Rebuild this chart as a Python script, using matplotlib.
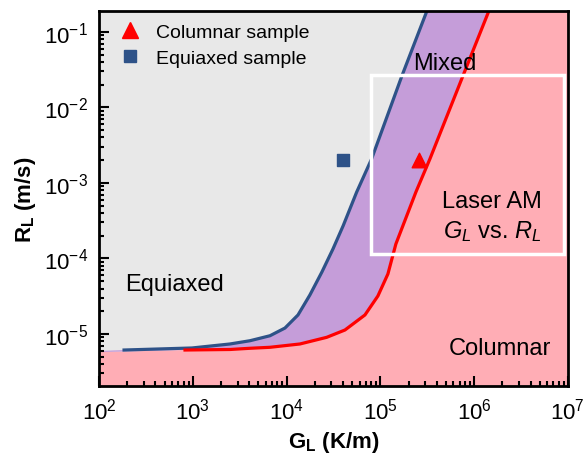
import matplotlib
matplotlib.use('Agg')
import matplotlib.pyplot as plt
from matplotlib.lines import Line2D

plt.rcParams['font.family'] = ['Liberation Sans', 'DejaVu Sans']
plt.rcParams['mathtext.fontset'] = 'custom'
plt.rcParams['mathtext.rm'] = 'Liberation Sans'
plt.rcParams['mathtext.it'] = 'Liberation Sans:italic'
plt.rcParams['mathtext.bf'] = 'Liberation Sans:bold'

# equiaxed / mixed boundary (blue), log10 values
logG_blue = [2.0, 2.267, 2.991, 3.397, 3.610, 3.823, 3.983, 4.122, 4.249, 4.377, 4.495,
             4.604, 4.747, 4.907, 5.230, 5.497, 5.56]
logR_blue = [-5.225, -5.212, -5.185, -5.132, -5.089, -5.023, -4.921, -4.748, -4.483, -4.179, -3.874,
             -3.566, -3.123, -2.682, -1.583, -0.722, -0.55]
blue_start = 2.267

# mixed / columnar boundary (red)
logG_red = [2.0, 2.917, 3.397, 3.610, 3.823, 4.143, 4.428, 4.623, 4.836, 4.974, 5.081,
            5.166, 5.380, 5.529, 5.881, 6.158, 6.22]
logR_red = [-5.24, -5.212, -5.205, -5.189, -5.176, -5.132, -5.044, -4.947, -4.748, -4.497, -4.205,
            -3.808, -3.119, -2.682, -1.583, -0.722, -0.55]
red_start = 2.917

# samples
G_columnar, R_columnar = 2.6e5, 2.0e-3
G_equiaxed, R_equiaxed = 4.0e4, 2.0e-3

# laser AM window
G_am = (8e4, 9e6)
R_am = (1.15e-4, 2.7e-2)

xlim = (1e2, 1e7)
ylim = (2.04e-6, 0.19)

G_blue = [10 ** v for v in logG_blue]
R_blue = [10 ** v for v in logR_blue]
G_red = [10 ** v for v in logG_red]
R_red = [10 ** v for v in logR_red]

fig = plt.figure(figsize=(5.86, 4.56), dpi=100)
ax = fig.add_axes([0.169, 0.151, 0.8, 0.823])
ax.set_xscale('log')
ax.set_yscale('log')
ax.set_xlim(*xlim)
ax.set_ylim(*ylim)
ax.set_facecolor('#e8e8e8')

# regions
ax.fill(G_red + [xlim[1], xlim[1], xlim[0]],
        R_red + [R_red[-1], ylim[0], ylim[0]],
        color='#ffadb5', lw=0, zorder=1)
ax.fill(G_blue + G_red[::-1], R_blue + R_red[::-1],
        color='#c59dd9', lw=0, zorder=1)

gb = [g for g, l in zip(G_blue, logG_blue) if l >= blue_start]
rb = [r for r, l in zip(R_blue, logG_blue) if l >= blue_start]
gr = [g for g, l in zip(G_red, logG_red) if l >= red_start]
rr = [r for r, l in zip(R_red, logG_red) if l >= red_start]
ax.plot(gb, rb, color='#2e5288', lw=2.3, zorder=3, solid_joinstyle='round')
ax.plot(gr, rr, color='#ff0000', lw=2.3, zorder=3, solid_joinstyle='round')

ax.add_patch(plt.Rectangle((G_am[0], R_am[0]), G_am[1] - G_am[0], R_am[1] - R_am[0],
                           fill=False, ec='white', lw=2.5, zorder=4))

ax.scatter([G_columnar], [R_columnar], marker='^', s=110, color='#ff0000', zorder=5)
ax.scatter([G_equiaxed], [R_equiaxed], marker='s', s=80, color='#2e5288', zorder=5)

handles = [Line2D([], [], ls='', marker='^', ms=11, color='#ff0000'),
           Line2D([], [], ls='', marker='s', ms=9, color='#2e5288')]
ax.legend(handles, ['Columnar sample', 'Equiaxed sample'], loc='upper left',
          frameon=False, fontsize=14, handletextpad=0.35, borderaxespad=0.2,
          labelspacing=0.45, bbox_to_anchor=(0.0, 0.998))

txt = dict(transform=ax.transAxes, fontsize=17, ha='center', va='center', zorder=6)
ax.text(0.738, 0.862, 'Mixed', **txt)
ax.text(0.16, 0.272, 'Equiaxed', **txt)
ax.text(0.838, 0.494, 'Laser AM', **txt)
ax.text(0.838, 0.414, '$G_L$ vs. $R_L$', **txt)
ax.text(0.855, 0.102, 'Columnar', **txt)

ax.set_xlabel(r'$\mathbf{G_L}$ (K/m)', fontsize=16, fontweight='bold', labelpad=4)
ax.set_ylabel(r'$\mathbf{R_L}$ (m/s)', fontsize=16, fontweight='bold', labelpad=4)

ax.tick_params(which='both', direction='in', top=False, right=False, labelsize=16, width=1.5)
ax.tick_params(which='major', length=7, pad=8)
ax.tick_params(which='minor', length=3.5)
for sp in ax.spines.values():
    sp.set_linewidth(2)
    sp.set_zorder(7)

fig.savefig('out.png', dpi=100)
